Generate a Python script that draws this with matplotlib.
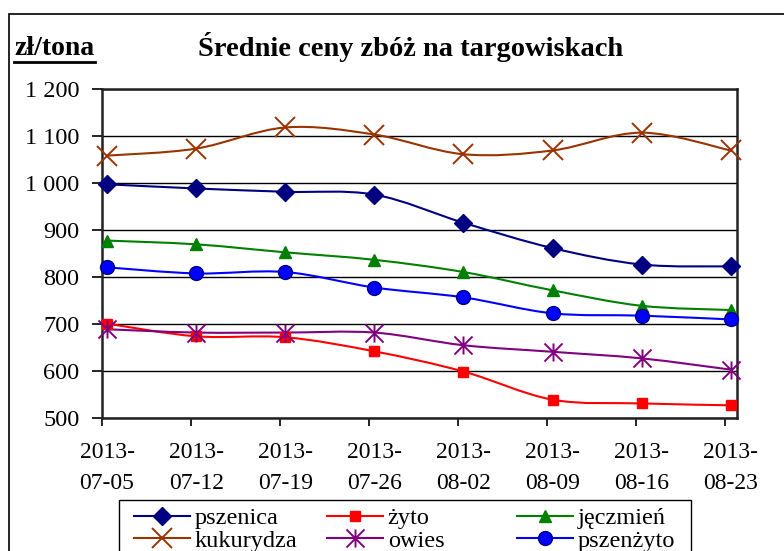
import matplotlib
matplotlib.use("Agg")
import matplotlib.pyplot as plt
import numpy as np
from matplotlib.path import Path
from matplotlib.patches import PathPatch, Rectangle
from matplotlib.lines import Line2D

# ---- data ----
dates = ["2013-\n07-05", "2013-\n07-12", "2013-\n07-19", "2013-\n07-26",
         "2013-\n08-02", "2013-\n08-09", "2013-\n08-16", "2013-\n08-23"]
pszenica = [997, 988, 981, 975, 915, 861, 826, 822]
zyto = [700, 673, 671, 641, 598, 538, 530, 526]
jeczmien = [877, 869, 852, 836, 810, 771, 738, 729]
kukurydza = [1058, 1073, 1118, 1103, 1061, 1069, 1107, 1069]
owies = [688, 681, 681, 681, 654, 640, 626, 602]
pszenzyto = [820, 807, 810, 777, 756, 722, 717, 709]
y_ticks = [500, 600, 700, 800, 900, 1000, 1100, 1200]
y_ticklabels = ["500", "600", "700", "800", "900", "1 000", "1 100", "1 200"]
title = "Średnie ceny zbóż na targowiskach"
unit_label = "zł/tona"

W, H = 784, 551
fig = plt.figure(figsize=(W / 100, H / 100), dpi=100)
plt.rcParams['font.family'] = ['Liberation Serif', 'DejaVu Serif']

def fx(px):
    return px / W

def fy(py):
    return 1 - py / H

left, right, top, bottom = 101.7, 736.7, 89.0, 417.5
ax = fig.add_axes([fx(left), fy(bottom), fx(right) - fx(left), fy(top) - fy(bottom)])

star = Path([(0, -1), (0, 1), (-1, -1), (1, 1), (-1, 1), (1, -1)],
            [Path.MOVETO, Path.LINETO, Path.MOVETO, Path.LINETO, Path.MOVETO, Path.LINETO])

series = [
    ("pszenica", pszenica, dict(color="#000080", marker="D", ms=9, mfc="#000080", mec="#000080")),
    ("żyto", zyto, dict(color="#FF0000", marker="s", ms=7, mfc="#FF0000", mec="#FF0000")),
    ("jęczmień", jeczmien, dict(color="#008000", marker="^", ms=9, mfc="#008000", mec="#008000")),
    ("kukurydza", kukurydza, dict(color="#993300", marker="x", ms=14, mew=1.4, mec="#993300")),
    ("owies", owies, dict(color="#800080", marker=star, ms=13, mew=1.4, mec="#800080")),
    ("pszenżyto", pszenzyto, dict(color="#0000FF", marker="o", ms=10, mfc="#0000FF", mec="#000080", mew=1.0)),
]

x = np.arange(len(dates))


def smooth_path(xs, ys):
    pts = np.column_stack([xs, ys]).astype(float)
    n = len(pts)
    verts = [pts[0]]
    codes = [Path.MOVETO]
    for i in range(n - 1):
        p0 = pts[i - 1] if i > 0 else pts[i]
        p1 = pts[i]
        p2 = pts[i + 1]
        p3 = pts[i + 2] if i + 2 < n else pts[i + 1]
        c1 = p1 + (p2 - p0) / 6.0
        c2 = p2 - (p3 - p1) / 6.0
        verts += [c1, c2, p2]
        codes += [Path.CURVE4] * 3
    return Path(verts, codes)


handles = {}
for name, vals, st in series:
    col = st["color"]
    ax.add_patch(PathPatch(smooth_path(x, vals), fill=False, edgecolor=col, lw=1.5, zorder=3))
    mk = {k: v for k, v in st.items() if k != "color"}
    ax.plot(x, vals, linestyle="none", zorder=4, clip_on=False, **mk)
    handles[name] = Line2D([], [], color=col, lw=1.5, **mk)

ax.set_xlim(-0.06, 7.067)
ax.set_ylim(500, 1200)
ax.set_yticks(y_ticks)
ax.set_yticklabels(y_ticklabels)
ax.set_xticks(x)
ax.set_xticklabels(dates, linespacing=1.62)
ax.set_xticks(x - 0.06, minor=True)
ax.tick_params(axis="x", which="major", length=0, pad=18, labelsize=17)
ax.tick_params(axis="x", which="minor", length=6, width=1.2, direction="out")
ax.tick_params(axis="y", length=7, width=1.2, direction="out", pad=9, labelsize=17.5)
ax.yaxis.grid(True, color="black", lw=1.0)
ax.set_axisbelow(True)
for sp in ax.spines.values():
    sp.set_linewidth(1.8)
    sp.set_color("#222222")

# title and unit
fig.text(fx(411), fy(47), title, ha="center", va="center", fontsize=20.5, fontweight="bold")
fig.text(fx(14), fy(55), unit_label, ha="left", va="baseline", fontsize=20, fontweight="bold")
fig.add_artist(Line2D([fx(14), fx(95)], [fy(61.5), fy(61.5)], color="black", lw=2, transform=fig.transFigure))

# outer chart border
fig.add_artist(Rectangle((fx(9), -0.1), 1.2, fy(14) + 0.1, fill=False, lw=1.2, ec="black",
                         transform=fig.transFigure))

# legend box and columns
fig.add_artist(Rectangle((fx(119.3), -0.1), fx(691) - fx(119.3), fy(500) + 0.1, fill=False, lw=1.0,
                         ec="black", transform=fig.transFigure))
cols = [("pszenica", "kukurydza", 134), ("żyto", "owies", 327), ("jęczmień", "pszenżyto", 517)]
for a, b, px in cols:
    lg = fig.legend([handles[a], handles[b]], [a, b], loc="center left",
                    bbox_to_anchor=(fx(px), fy(529.5)), frameon=False, fontsize=17.5,
                    handlelength=2.3, handletextpad=0.2, borderpad=0, labelspacing=0.02,
                    borderaxespad=0)

fig.savefig("out.png", dpi=100)
